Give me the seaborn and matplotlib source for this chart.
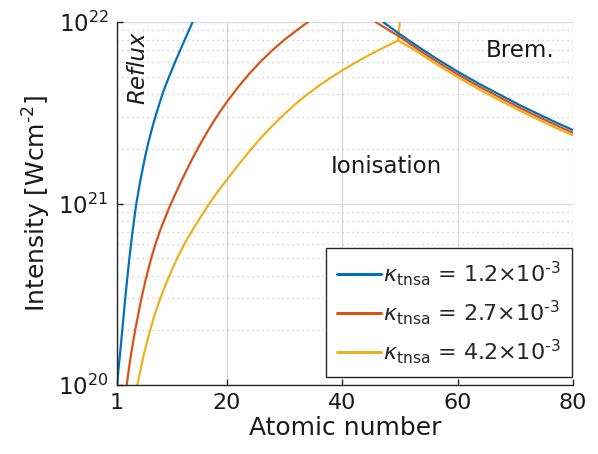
import matplotlib
matplotlib.use("Agg")
import matplotlib.pyplot as plt
from matplotlib.lines import Line2D
from matplotlib.ticker import LogLocator, NullFormatter, FixedLocator
import numpy as np
import pandas as pd
import seaborn as sns

# Threshold curves: atomic number Z and log10 of the intensity (W/cm^2)
reflux_blue_z = [1.02, 1.25, 1.52, 1.92, 2.39, 2.75, 3.08, 3.65, 4.3, 5.0, 5.85, 6.5,
                 7.3, 8.1, 9.0, 10.1, 11.3, 12.5, 14.1]
reflux_blue_exp = [20.0, 20.085, 20.17, 20.305, 20.465, 20.58, 20.68, 20.835, 20.99, 21.12,
                   21.255, 21.345, 21.44, 21.525, 21.615, 21.705, 21.797, 21.885, 22.0]

reflux_red_z = [2.68, 3.0, 3.37, 4.12, 5.2, 6.0, 6.95, 7.7, 8.57, 10.0, 11.0, 12.0, 13.0,
                14.0, 15.0, 16.0, 17.0, 18.0, 19.0, 20.0, 22.0, 24.0, 26.0, 28.0, 30.0,
                32.0, 34.1]
reflux_red_exp = [20.0, 20.075, 20.156, 20.298, 20.473, 20.585, 20.701, 20.78, 20.86,
                  20.974, 21.045, 21.114, 21.18, 21.243, 21.303, 21.36, 21.414, 21.465,
                  21.513, 21.558, 21.642, 21.718, 21.786, 21.847, 21.902, 21.951, 22.0]

reflux_yel_z = [4.52, 5.0, 5.56, 6.1, 6.72, 7.5, 8.45, 9.2, 10.0, 11.45, 12.9, 14.3, 15.8,
                17.0, 18.5, 20.0, 22.0, 24.0, 26.0, 28.1, 30.0, 32.1, 34.0, 36.2, 38.2,
                40.2, 42.5, 44.8, 47.2, 49.7, 50.0]
reflux_yel_exp = [20.0, 20.07, 20.156, 20.225, 20.30, 20.385, 20.472, 20.535, 20.597,
                  20.70, 20.79, 20.865, 20.94, 21.0, 21.068, 21.13, 21.212, 21.29, 21.364,
                  21.434, 21.493, 21.553, 21.602, 21.654, 21.697, 21.737, 21.78, 21.82,
                  21.859, 21.898, 22.0]

# Bremsstrahlung-limited branch
brem_blue_z = [47.1, 50.0, 52.6, 55.8, 60.0, 64.0, 67.6, 71.0, 74.0, 77.0, 80.0]
brem_blue_exp = [22.0, 21.933, 21.876, 21.809, 21.727, 21.655, 21.595, 21.538, 21.493,
                 21.447, 21.405]

brem_red_z = [45.8, 50.0, 52.6, 55.8, 60.0, 64.0, 67.6, 71.0, 74.0, 77.0, 80.0]
brem_red_exp = [22.0, 21.918, 21.861, 21.794, 21.712, 21.640, 21.580, 21.523, 21.478,
                21.432, 21.390]

brem_yel_z = [49.7, 52.6, 55.8, 60.0, 64.0, 67.6, 71.0, 74.0, 77.0, 80.0]
brem_yel_exp = [21.898, 21.845, 21.778, 21.696, 21.624, 21.564, 21.508, 21.462, 21.417,
                21.375]

kappa_labels = ["1.2", "2.7", "4.2"]
colors = ["#0072BD", "#D95319", "#EDB120"]

segments = [
    (reflux_blue_z, reflux_blue_exp, 0),
    (reflux_red_z, reflux_red_exp, 1),
    (reflux_yel_z, reflux_yel_exp, 2),
    (brem_yel_z, brem_yel_exp, 2),
    (brem_red_z, brem_red_exp, 1),
    (brem_blue_z, brem_blue_exp, 0),
]

sns.set_theme(style="ticks")
plt.rcParams["font.family"] = ["DejaVu Sans"]
plt.rcParams["mathtext.fontset"] = "dejavusans"

fig = plt.figure(figsize=(5.98, 4.54), dpi=100)
ax = fig.add_axes([117 / 598, 1 - 385 / 454, 456 / 598, 363 / 454])

for z, expo, k in segments:
    df = pd.DataFrame({"Z": z, "I": 10.0 ** np.asarray(expo)})
    sns.lineplot(data=df, x="Z", y="I", color=colors[k], lw=1.6, sort=False,
                 estimator=None, ax=ax, legend=False)

ax.set_yscale("log")
ax.set_xlim(1, 80)
ax.set_ylim(1e20, 1e22)
ax.xaxis.set_major_locator(FixedLocator([1, 20, 40, 60, 80]))
ax.yaxis.set_minor_locator(LogLocator(base=10, subs=range(2, 10)))
ax.yaxis.set_minor_formatter(NullFormatter())

ax.grid(which="major", color="#d9d9d9", lw=0.9, ls="-")
ax.grid(which="minor", axis="y", color="#c4c4c4", lw=0.9, ls=(0, (1, 3)))
ax.set_axisbelow(True)

for s in ["top", "right"]:
    ax.spines[s].set_visible(False)
for s in ["left", "bottom"]:
    ax.spines[s].set_color("#262626")
    ax.spines[s].set_linewidth(1.0)

ax.tick_params(which="major", direction="in", length=4, width=1, colors="#262626",
               labelsize=16, labelcolor="#1a1a1a", pad=6)
ax.tick_params(axis="y", which="major", labelsize=16.5)
ax.tick_params(which="minor", length=0)

ax.set_xlabel("Atomic number", fontsize=18, color="#1a1a1a", labelpad=2)
ax.set_ylabel("Intensity [Wcm$^{\\mathregular{\u20102}}$]", fontsize=18, color="#1a1a1a",
              labelpad=4)

ax.text(4.6, 5.6e21, "Reflux", rotation=90, style="italic", fontsize=16.5,
        ha="center", va="center", color="#1a1a1a")
ax.text(47.7, 1.6e21, "Ionisation", fontsize=16.5, ha="center", va="center", color="#1a1a1a")
ax.text(70.8, 7.0e21, "Brem.", fontsize=16.5, ha="center", va="center", color="#1a1a1a")

handles = [Line2D([], [], color=c, lw=2.2) for c in colors]
labels = ["$\\kappa_{\\mathrm{tnsa}}$ = " + k + "$\\times$10$^{\\mathregular{\u20103}}$"
          for k in kappa_labels]
leg = ax.legend(handles, labels, loc="lower right", bbox_to_anchor=(0.998, 0.022),
                borderaxespad=0, fontsize=16, handlelength=2.0, handletextpad=0.1,
                labelspacing=0.45, borderpad=0.5, fancybox=False, framealpha=1)
leg.get_frame().set_edgecolor("#262626")
leg.get_frame().set_linewidth(1.0)

fig.savefig("out.png", dpi=100)
